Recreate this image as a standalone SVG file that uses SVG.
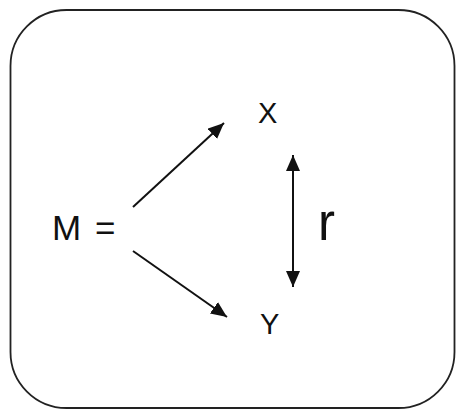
<svg xmlns="http://www.w3.org/2000/svg" width="456" height="410" viewBox="0 0 456 410">
<style>
.lbl{font-family:"Liberation Sans",Arial,sans-serif;fill:#111}
.con{stroke:#111;stroke-width:2;fill:none}
</style>
<defs>
<marker id="ah" markerUnits="userSpaceOnUse" markerWidth="16" markerHeight="14" refX="16" refY="7" orient="auto-start-reverse" viewBox="0 0 16 14">
<path d="M0,0 L16,7 L0,14 z" fill="#111"/>
</marker>
</defs>
<rect x="0" y="0" width="456" height="410" fill="#fff"/>
<g id="frame">
<rect x="10.5" y="10" width="444" height="398" rx="56" ry="56" fill="#fff" stroke="#222" stroke-width="1.8"/>
</g>
<g id="connectors">
<line class="con" x1="133" y1="207" x2="224" y2="123" marker-end="url(#ah)"/>
<line class="con" x1="133" y1="251" x2="227" y2="317" marker-end="url(#ah)"/>
<line class="con" x1="293" y1="155" x2="293" y2="287" marker-start="url(#ah)" marker-end="url(#ah)"/>
</g>
<g id="node-M">
<text class="lbl" x="52" y="240" font-size="35">M <tspan dx="4">=</tspan></text>
</g>
<g id="node-X">
<text class="lbl" x="258" y="123" font-size="29">X</text>
</g>
<g id="node-Y">
<text class="lbl" x="260" y="334" font-size="29">Y</text>
</g>
<g id="label-r">
<text class="lbl" x="318" y="240" font-size="51">r</text>
</g>
</svg>
